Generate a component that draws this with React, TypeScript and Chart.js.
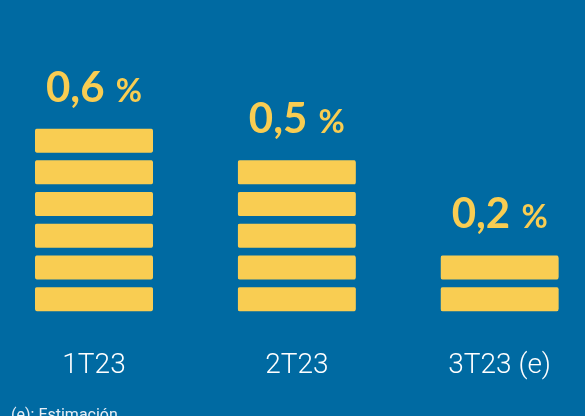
import React, { useEffect, useRef } from "react";
import { Chart, registerables } from "chart.js";

Chart.register(...registerables);

const categories = ["1T23", "2T23", "3T23 (e)"];
const values = [0.6, 0.5, 0.2];
const valueLabels = ["0,6", "0,5", "0,2"];
const segmentStep = 0.1;
const segmentCount = 6;
const footnote = "(e): Estimación";

const BG = "#006AA2";
const YELLOW = "#F9CD52";
const GAP_HALF = 4.2;

const labelPlugin = {
  id: "valueLabels",
  afterDatasetsDraw(chart: any) {
    const { ctx, scales } = chart;
    const xs = scales.x;
    const ys = scales.y;
    ctx.save();
    ctx.fillStyle = YELLOW;
    ctx.textBaseline = "alphabetic";
    values.forEach((v, i) => {
      const x = xs.getPixelForValue(i);
      const top = ys.getPixelForValue(v) + GAP_HALF;
      const baseline = top - 27.4;
      const num = valueLabels[i];
      ctx.font = "700 42px Lato";
      const wNum = ctx.measureText(num).width;
      const wSpace = ctx.measureText(" ").width * 1.1;
      ctx.font = "700 32px Lato";
      const wPct = ctx.measureText("%").width;
      const total = wNum + wSpace + wPct;
      const start = x - total / 2;
      ctx.textAlign = "left";
      ctx.font = "700 42px Lato";
      ctx.fillText(num, start, baseline);
      ctx.font = "700 32px Lato";
      ctx.fillText("%", start + wNum + wSpace, baseline);
    });
    ctx.restore();
  },
};

export default function App() {
  const ref = useRef<HTMLCanvasElement | null>(null);

  useEffect(() => {
    document.body.style.margin = "0";
    const canvas = ref.current;
    if (!canvas) return;
    const datasets = Array.from({ length: segmentCount }, (_, k) => ({
      label: "seg" + k,
      data: values.map((v) => (v >= (k + 1) * segmentStep - 1e-9 ? segmentStep : null)),
      backgroundColor: YELLOW,
      borderColor: "rgba(0,0,0,0)",
      borderWidth: { top: GAP_HALF, bottom: GAP_HALF, left: 0, right: 0 },
      borderSkipped: false,
      borderRadius: { topLeft: 6.4, topRight: 6.4, bottomLeft: 6.4, bottomRight: 6.4 },
      barThickness: 118,
      clip: false,
      stack: "s",
    }));
    const chart = new Chart(canvas, {
      type: "bar",
      data: { labels: categories, datasets: datasets as any },
      options: {
        animation: false,
        responsive: false,
        maintainAspectRatio: false,
        layout: { padding: { top: 13.85, bottom: 0, left: 94, right: 60 } },
        plugins: { legend: { display: false }, tooltip: { enabled: false }, title: { display: false } },
        scales: {
          x: {
            stacked: true,
            offset: false,
            grid: { display: false, drawTicks: false },
            border: { display: false },
            afterFit: (scale: any) => {
              scale.height = 101;
            },
            ticks: {
              color: "#FFFFFF",
              padding: 34,
              maxRotation: 0,
              autoSkip: false,
              font: { family: "Roboto", size: 28, weight: "300" as any },
            },
          },
          y: {
            stacked: true,
            display: false,
            min: 0,
            max: 0.95,
          },
        },
      },
      plugins: [labelPlugin],
    });
    return () => chart.destroy();
  }, []);

  return (
    <div style={{ position: "fixed", left: 0, top: 0, width: 585, height: 416, background: BG, overflow: "hidden" }}>
      <canvas ref={ref} width={585} height={416} style={{ display: "block" }} />
      <div
        style={{
          position: "absolute",
          left: 11,
          top: 406.5,
          fontFamily: "Roboto",
          fontSize: 16,
          lineHeight: "16px",
          color: "#E8EEF5",
          whiteSpace: "nowrap",
        }}
      >
        {footnote}
      </div>
    </div>
  );
}
